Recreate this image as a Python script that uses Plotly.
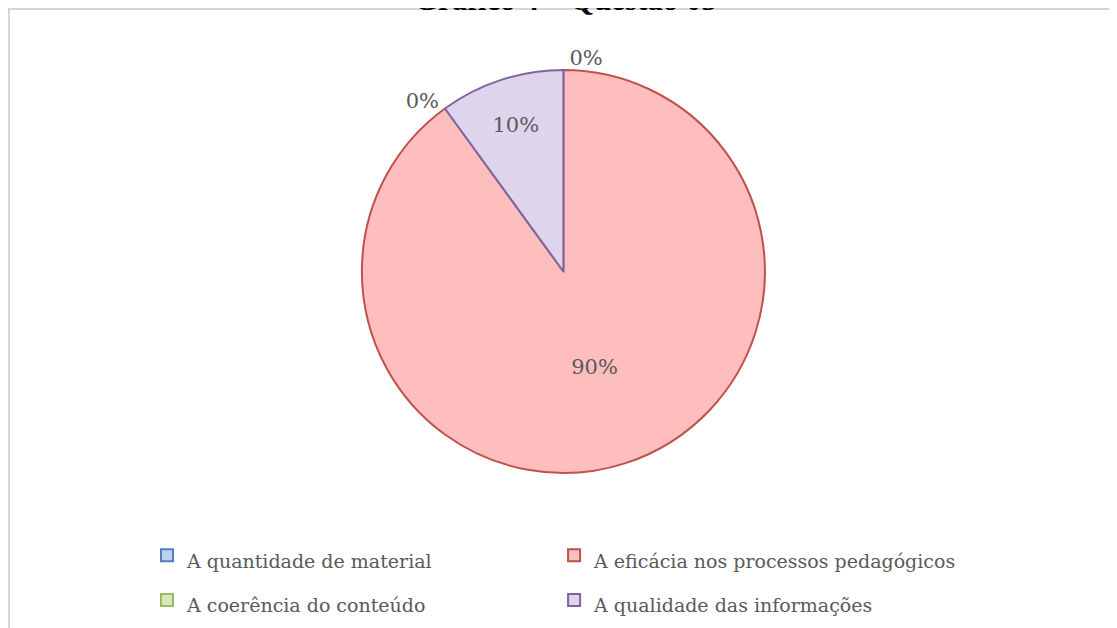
import plotly.graph_objects as go

categories = [
    "A quantidade de material",
    "A eficácia nos processos pedagógicos",
    "A coerência do conteúdo",
    "A qualidade das informações",
]
values = [0, 90, 0, 10]
title_text = "Gráfico 4 – Questão 05"

fill_colors = ["#BED1EE", "#FFBEBE", "#D8E6BF", "#DED5EC"]
line_colors = ["#4F81BD", "#C0504D", "#9BBB59", "#8064A2"]

W, H = 1117, 628
T, B = 62, 163
PH = H - T - B
# legend text built from the categories (smaller span so rows get more spacing)
legend_labels = [f'<span style="font-size:19px">{c}</span>' for c in categories]

fig = go.Figure(
    go.Pie(
        labels=legend_labels,
        values=values,
        customdata=categories,
        sort=False,
        direction="clockwise",
        rotation=0,
        texttemplate="%{percent:.0%}",
        textposition="auto",
        insidetextorientation="horizontal",
        hovertemplate="%{customdata}: %{percent:.0%}<extra></extra>",
        marker=dict(colors=fill_colors, line=dict(color=line_colors, width=2)),
        textfont=dict(family="DejaVu Serif", size=21, color="#595959"),
        domain=dict(x=[353.8 / W, 757.0 / W], y=[0, 1]),
    )
)

fig.update_layout(
    width=W,
    height=H,
    margin=dict(l=0, r=0, t=T, b=B, autoexpand=False),
    paper_bgcolor="white",
    plot_bgcolor="white",
    title=dict(
        text=f"<b>{title_text}</b>",
        font=dict(family="Liberation Serif", size=31, color="black"),
        x=557.5 / W,
        xanchor="center",
        xref="paper",
        yref="container",
        y=1 - 2 / H,
        yanchor="bottom",
    ),
    showlegend=True,
    legend=dict(
        orientation="h",
        x=139 / W,
        xanchor="left",
        y=-(520 - (H - B)) / PH,
        yanchor="top",
        font=dict(family="DejaVu Serif", size=32, color="#595959"),
        bgcolor="rgba(0,0,0,0)",
    ),
    shapes=[
        dict(
            type="rect",
            xref="paper",
            yref="paper",
            x0=1 / W,
            x1=1.02,
            y0=-0.5,
            y1=(H - B - 1) / PH,
            line=dict(color="#D6D6D6", width=2),
            fillcolor="rgba(0,0,0,0)",
            layer="below",
        )
    ],
)

fig.write_html("out.html")
